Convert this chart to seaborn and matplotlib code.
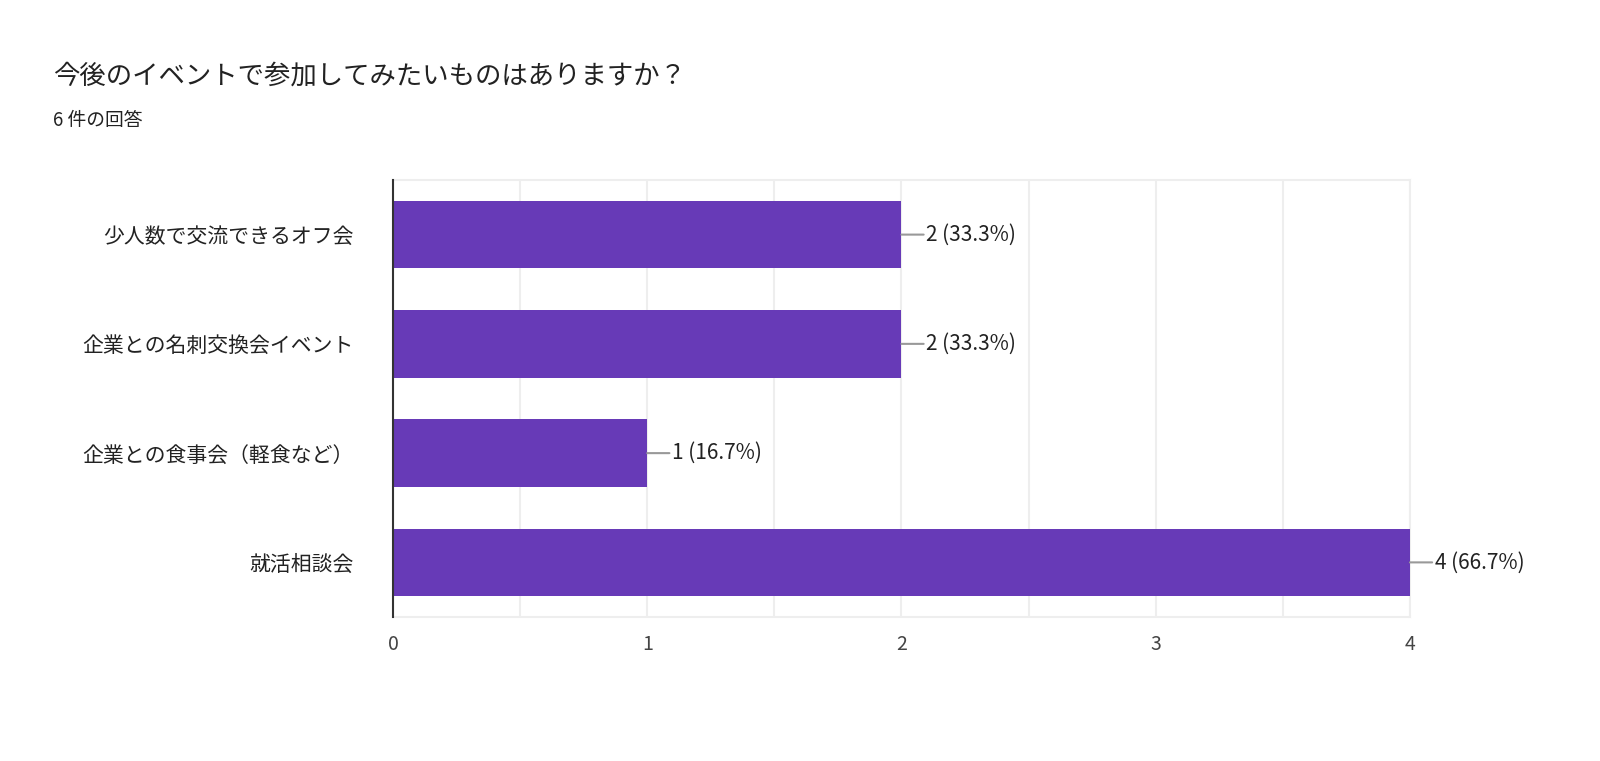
import matplotlib
matplotlib.use("Agg")
import matplotlib.pyplot as plt
import seaborn as sns
import pandas as pd

categories = ["少人数で交流できるオフ会", "企業との名刺交換会イベント", "企業との食事会（軽食など）", "就活相談会"]
counts = [2, 2, 1, 4]
total = 6
title = "今後のイベントで参加してみたいものはありますか？"
subtitle = "6 件の回答"

plt.rcParams["font.family"] = ["Noto Sans CJK JP", "DejaVu Sans"]
df = pd.DataFrame({"cat": categories, "n": counts})

fig = plt.figure(figsize=(16, 7.61), dpi=100)
ax = fig.add_axes([0.2456, 0.1892, 0.6356, 0.5743])
sns.barplot(data=df, x="n", y="cat", color="#673ab7", saturation=1, width=0.62, ax=ax, zorder=3)

ax.set_xlim(0, 4)
ax.set_ylim(3.5, -0.5)
ax.set_xticks([0, 1, 2, 3, 4])
ax.set_xticks([0.5, 1.5, 2.5, 3.5], minor=True)
ax.tick_params(axis="x", which="both", length=0, labelsize=14, labelcolor="#444444", pad=12)
ax.tick_params(axis="y", length=0, labelsize=15, labelcolor="#222222", pad=28)
ax.grid(axis="x", which="both", color="#eeeeee", linewidth=1.5, zorder=0)
ax.set_xlabel("")
ax.set_ylabel("")
for s in ["top", "right", "bottom"]:
    ax.spines[s].set_color("#eeeeee")
    ax.spines[s].set_linewidth(1.5)
ax.spines["left"].set_color("#333333")
ax.spines["left"].set_linewidth(1.5)
ax.spines["left"].set_zorder(5)

for i, v in enumerate(counts):
    label = f"{v} ({v / total * 100:.1f}%)"
    ax.annotate(label, xy=(v, i), xytext=(25, 0), textcoords="offset points" if False else "offset pixels",
                ha="left", va="center", fontsize=15, color="#222222",
                arrowprops=dict(arrowstyle="-", color="#999999", lw=1.5, shrinkA=0, shrinkB=0),
                annotation_clip=False)

fig.text(0.033, 0.9, title, fontsize=19, color="#222222", va="center")
fig.text(0.033, 0.842, subtitle, fontsize=13.5, color="#222222", va="center")

fig.savefig("out.png", dpi=100, facecolor="white")
